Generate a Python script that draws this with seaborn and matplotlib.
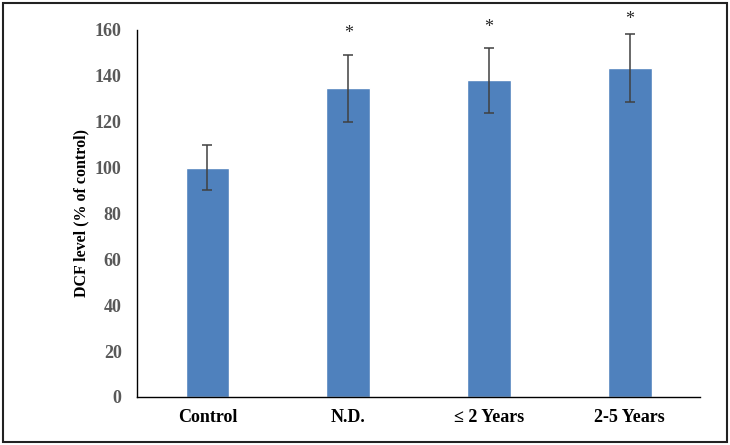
import matplotlib
matplotlib.use("Agg")
import matplotlib.pyplot as plt
import seaborn as sns
import pandas as pd
from matplotlib.patches import Rectangle

categories = ["Control", "N.D.", "\u2264 2 Years", "2-5 Years"]
values = [100.0, 134.5, 138.0, 143.5]
errors = [9.8, 14.7, 14.3, 14.8]
stars = ["", "*", "*", "*"]
star_levels = [0, 160.0, 162.5, 166.0]
yticks = [0, 20, 40, 60, 80, 100, 120, 140, 160]

sns.set_theme(style="white")
plt.rcParams['font.family'] = ['Liberation Serif', 'DejaVu Serif']

df = pd.DataFrame({"group": categories, "value": values})

fig = plt.figure(figsize=(7.3, 4.45), dpi=100)
ax = fig.add_axes([0.1877, 0.108, 0.959 - 0.1877, 0.9326 - 0.108])

sns.barplot(data=df, x="group", y="value", color="#4F81BD", width=0.31,
            errorbar=None, ax=ax, saturation=1)
ax.errorbar(range(len(categories)), values, yerr=errors, fmt="none",
            ecolor="#404040", elinewidth=1.1, capsize=3.5, capthick=1.1)
for i, (s, lvl) in enumerate(zip(stars, star_levels)):
    if s:
        ax.text(i, lvl - 5.2, s, ha="center", va="bottom", fontsize=13,
                color="#262626", clip_on=False)

ax.set_ylim(0, 160)
ax.set_xlim(-0.5, len(categories) - 0.5)
ax.set_yticks(yticks)
ax.set_yticklabels([str(t) for t in yticks], fontsize=13, fontweight="bold", color="#595959")
ax.set_xticks(range(len(categories)))
ax.set_xticklabels(categories, fontsize=13, fontweight="bold", color="black")
ax.tick_params(axis="both", length=0)
ax.tick_params(axis="x", pad=9)
ax.tick_params(axis="y", pad=11)
ax.set_xlabel("")
ax.set_ylabel("DCF level (% of control)", fontsize=11.5, fontweight="bold", color="black", labelpad=4)
for side in ["top", "right"]:
    ax.spines[side].set_visible(False)
for side in ["left", "bottom"]:
    ax.spines[side].set_color("black")
    ax.spines[side].set_linewidth(1.0)

fig.patches.append(Rectangle((0.004, 0.006), 0.992, 0.988, transform=fig.transFigure,
                             fill=False, edgecolor="#222222", linewidth=1.5))

fig.savefig("out.png", dpi=100)
